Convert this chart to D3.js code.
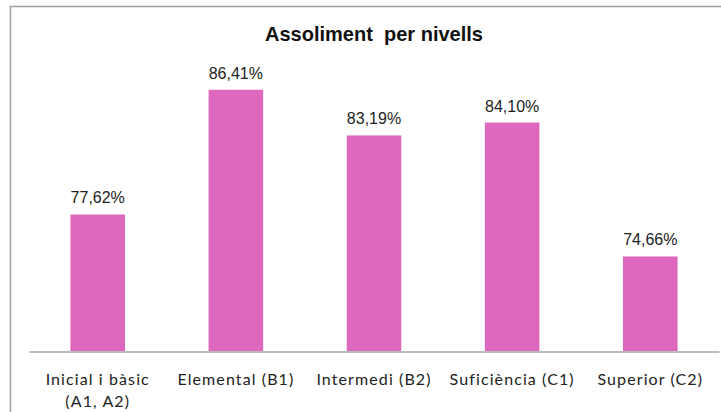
<!DOCTYPE html>
<html>
<head>
<meta charset="utf-8">
<script src="https://cdn.jsdelivr.net/npm/d3@7"></script>
<style>
  html, body { margin: 0; padding: 0; background: #fff; }
  svg { display: block; }
</style>
</head>
<body>
<svg id="chart" width="721" height="412"></svg>
<script>
const categories = [["Inicial i bàsic", "(A1, A2)"], ["Elemental (B1)"], ["Intermedi (B2)"], ["Suficiència (C1)"], ["Superior (C2)"]];
const values = [77.62, 86.41, 83.19, 84.10, 74.66];
const title = "Assoliment  per nivells";
const yDomain = [68, 90];

const svg = d3.select("#chart");
const W = 721, H = 412;

// chart border (frame)
svg.append("rect")
  .attr("x", 10.5).attr("y", 6.5)
  .attr("width", W + 10).attr("height", H + 10)
  .attr("fill", "#fff").attr("stroke", "#a0a0a0").attr("stroke-width", 1.5);

const x = d3.scaleBand()
  .domain(d3.range(categories.length))
  .range([29, 719])
  .paddingInner(0.605).paddingOuter(0.3);

const y = d3.scaleLinear().domain(yDomain).range([351, 38.8]);

svg.append("text")
  .attr("x", 374).attr("y", 41)
  .attr("text-anchor", "middle")
  .attr("xml:space", "preserve")
  .attr("font-family", "'Liberation Sans Narrow', 'Arial Narrow', 'Liberation Sans', Arial, sans-serif")
  .attr("font-weight", "bold")
  .attr("font-size", 21)
  .attr("textLength", 218)
  .attr("lengthAdjust", "spacingAndGlyphs")
  .attr("fill", "#111")
  .text(title);

svg.selectAll("rect.bar")
  .data(values)
  .join("rect")
  .attr("class", "bar")
  .attr("x", (d, i) => x(i))
  .attr("width", x.bandwidth())
  .attr("y", d => y(d))
  .attr("height", d => y(yDomain[0]) - y(d))
  .attr("fill", "#DE68BD");

svg.selectAll("text.val")
  .data(values)
  .join("text")
  .attr("class", "val")
  .attr("x", (d, i) => x(i) + x.bandwidth() / 2)
  .attr("y", d => y(d) - 11)
  .attr("text-anchor", "middle")
  .attr("font-family", "'Liberation Sans', Arial, sans-serif")
  .attr("font-size", 16)
  .attr("fill", "#222")
  .text(d => d.toFixed(2).replace(".", ",") + "%");

const xAxis = d3.axisBottom(x).tickSize(0).tickFormat(() => "");
const gx = svg.append("g").attr("transform", "translate(0,351.5)").call(xAxis);
gx.select(".domain").attr("stroke", "#a6a6a6").attr("stroke-width", 1.5);

gx.selectAll(".tick").each(function(d) {
  const t = d3.select(this).select("text");
  t.text(null)
   .attr("y", 0).attr("dy", null)
   .attr("font-family", "Lato, 'Open Sans', sans-serif")
   .attr("font-size", 16)
   .attr("letter-spacing", "1.1px")
   .attr("fill", "#222");
  categories[d].forEach((line, k) => {
    t.append("tspan").attr("x", 0).attr("y", 33 + k * 22).text(line);
  });
});
</script>
</body>
</html>
